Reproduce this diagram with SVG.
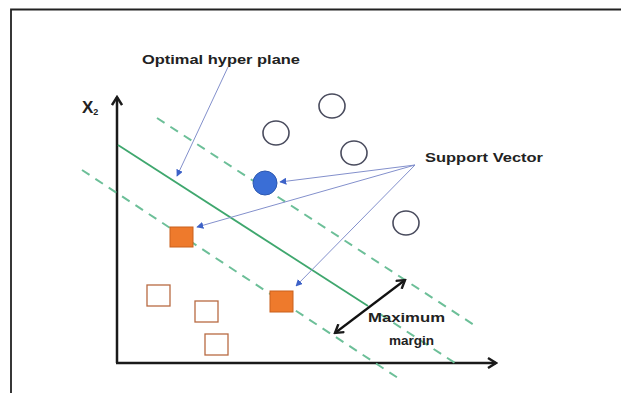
<svg xmlns="http://www.w3.org/2000/svg" width="621" height="393" viewBox="0 0 621 393">
  <style>
    .lbl { font-family: "Liberation Sans", Arial, sans-serif; font-weight: bold; fill: #222; }
    .axis { stroke: #1a1a1a; stroke-width: 2.5; fill: none; }
    .dash { stroke: #6cbf98; stroke-width: 2; stroke-dasharray: 9 7; fill: none; }
    .plane { stroke: #3fa76e; stroke-width: 1.8; fill: none; }
    .ptr { stroke: #8390cc; stroke-width: 1; fill: none; marker-end: url(#tipBlue); }
    .ring { fill: #fff; stroke: #4a4c5e; stroke-width: 1.6; }
    .sqOpen { fill: #fff; stroke: #b86a42; stroke-width: 1.3; }
    .sqFill { fill: #ee7a2c; stroke: #c9601c; stroke-width: 1; }
  </style>
  <defs>
    <marker id="tipBlue" viewBox="0 0 10 10" refX="9" refY="5" markerWidth="7" markerHeight="7" markerUnits="userSpaceOnUse" orient="auto">
      <path d="M0,0 L10,5 L0,10 z" fill="#3d62c8"/>
    </marker>
    <marker id="chev" viewBox="0 0 12 12" refX="10" refY="6" markerWidth="12" markerHeight="12" markerUnits="userSpaceOnUse" orient="auto-start-reverse">
      <path d="M2,1 L10,6 L2,11" fill="none" stroke="#1a1a1a" stroke-width="2.4"/>
    </marker>
  </defs>

  <rect width="621" height="393" fill="#fff"/>
  <!-- frame -->
  <path d="M11,393 V9.5 H621" fill="none" stroke="#222" stroke-width="1.8"/>

  <!-- axes -->
  <g id="axes">
    <path class="axis" d="M117,363 V97" marker-end="url(#chev)"/>
    <path class="axis" d="M116,363 H496" marker-end="url(#chev)"/>
    <text class="lbl" x="82" y="113" style="font-size:17px">X<tspan dy="2" style="font-size:9px">2</tspan></text>
  </g>

  <!-- separating lines -->
  <g id="connectors">
    <path class="dash" d="M157,118 L474,325"/>
    <path class="dash" d="M82,170 L398,378"/>
    <path class="plane" d="M118,145 L368,306"/>
    <path class="dash" d="M380,314 L455,363" stroke="#7cc8a8" stroke-width="1.6"/>
    <!-- label pointers -->
    <path class="ptr" d="M228,67 L177,176"/>
    <path class="ptr" d="M415,165 L280,182"/>
    <path class="ptr" d="M415,165 L197,227"/>
    <path class="ptr" d="M415,165 L296,286"/>
    <!-- margin width -->
    <path d="M335,333 L405,280" stroke="#111" stroke-width="2.2" fill="none" marker-start="url(#chev)" marker-end="url(#chev)"/>
  </g>

  <!-- class A: circles -->
  <g id="circle-1"><ellipse class="ring" cx="276" cy="133" rx="13" ry="12"/></g>
  <g id="circle-2"><ellipse class="ring" cx="332" cy="106" rx="13" ry="12"/></g>
  <g id="circle-3"><ellipse class="ring" cx="354" cy="153" rx="13" ry="12"/></g>
  <g id="circle-4"><ellipse class="ring" cx="406" cy="223" rx="13" ry="12"/></g>
  <g id="support-circle"><circle cx="265" cy="183" r="12" fill="#3a6ed6" stroke="#2d58b0" stroke-width="1"/></g>

  <!-- class B: squares -->
  <g id="support-square-1"><rect class="sqFill" x="170" y="227" width="23" height="20"/></g>
  <g id="support-square-2"><rect class="sqFill" x="270" y="291" width="23" height="21"/></g>
  <g id="square-1"><rect class="sqOpen" x="147" y="285" width="23" height="21"/></g>
  <g id="square-2"><rect class="sqOpen" x="195" y="301" width="23" height="21"/></g>
  <g id="square-3"><rect class="sqOpen" x="205" y="334" width="23" height="21"/></g>

  <!-- labels -->
  <g id="label-hyperplane"><text class="lbl" x="142" y="64" style="font-size:13px" textLength="158" lengthAdjust="spacingAndGlyphs">Optimal  hyper plane</text></g>
  <g id="label-support"><text class="lbl" x="425" y="162" style="font-size:13.5px" textLength="118" lengthAdjust="spacingAndGlyphs">Support Vector</text></g>
  <g id="label-margin">
    <text class="lbl" x="368" y="322" style="font-size:13.5px" textLength="77" lengthAdjust="spacingAndGlyphs">Maximum</text>
    <text class="lbl" x="389" y="345" style="font-size:13.5px" textLength="45" lengthAdjust="spacingAndGlyphs">margin</text>
  </g>
</svg>
